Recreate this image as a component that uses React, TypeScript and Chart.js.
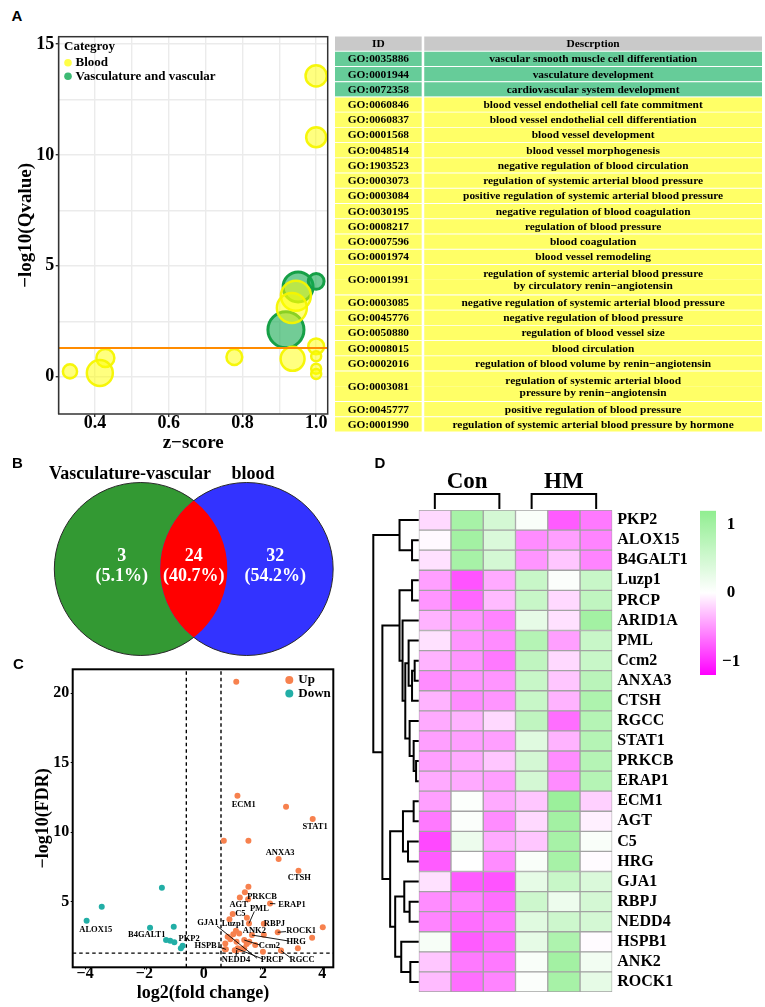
import React, { useEffect, useRef } from 'react';
import { Chart, registerables } from 'chart.js';

Chart.register(...registerables);

const SERIF = '"Liberation Serif", "Times New Roman", Times, serif';
const SANS = '"Liberation Sans", Arial, Helvetica, sans-serif';
Chart.defaults.font.family = SERIF;
Chart.defaults.color = '#000';

// ---------------- Panel A : GO bubble chart ----------------
const bloodZ = [1.0, 1.0, 0.945, 0.934, 1.0, 1.0, 0.936, 0.778, 0.428, 0.413, 0.332, 1.0, 1.0];
const bloodQ = [13.56, 10.8, 3.65, 3.1, 1.37, 0.92, 0.81, 0.89, 0.84, 0.17, 0.24, 0.36, 0.12];
const bloodCount = [18, 16, 36, 36, 10, 4, 23, 10, 13, 27, 8, 4, 4];
const vascZ = [0.951, 1.0, 0.918];
const vascQ = [4.05, 4.3, 2.12];
const vascCount = [36, 10, 52];
const qCutoff = 1.3;
const zGrid = [0.3, 0.4, 0.5, 0.6, 0.7, 0.8, 0.9, 1.0];
const zLabels = [0.4, 0.6, 0.8, 1.0];
const qGrid = [0, 2.5, 5, 7.5, 10, 12.5, 15];
const qLabels = [0, 5, 10, 15];
const categoryNames = ['Blood', 'Vasculature and vascular'];
const legendTitleA = 'Categroy';

// ---------------- Panel A : GO table ----------------
const tableHeader = ['ID', 'Descrption'];
const goIds = [
  'GO:0035886', 'GO:0001944', 'GO:0072358', 'GO:0060846', 'GO:0060837', 'GO:0001568',
  'GO:0048514', 'GO:1903523', 'GO:0003073', 'GO:0003084', 'GO:0030195', 'GO:0008217',
  'GO:0007596', 'GO:0001974', 'GO:0001991', 'GO:0003085', 'GO:0045776', 'GO:0050880',
  'GO:0008015', 'GO:0002016', 'GO:0003081', 'GO:0045777', 'GO:0001990',
];
const goTerms = [
  'vascular smooth muscle cell differentiation',
  'vasculature development',
  'cardiovascular system development',
  'blood vessel endothelial cell fate commitment',
  'blood vessel endothelial cell differentiation',
  'blood vessel development',
  'blood vessel morphogenesis',
  'negative regulation of blood circulation',
  'regulation of systemic arterial blood pressure',
  'positive regulation of systemic arterial blood pressure',
  'negative regulation of blood coagulation',
  'regulation of blood pressure',
  'blood coagulation',
  'blood vessel remodeling',
  'regulation of systemic arterial blood pressure\nby circulatory renin\u2212angiotensin',
  'negative regulation of systemic arterial blood pressure',
  'negative regulation of blood pressure',
  'regulation of blood vessel size',
  'blood circulation',
  'regulation of blood volume by renin\u2212angiotensin',
  'regulation of systemic arterial blood\npressure by renin\u2212angiotensin',
  'positive regulation of blood pressure',
  'regulation of systemic arterial blood pressure by hormone',
];
const goCategory = [
  'Vasculature', 'Vasculature', 'Vasculature',
  'Blood', 'Blood', 'Blood', 'Blood', 'Blood', 'Blood', 'Blood', 'Blood', 'Blood', 'Blood',
  'Blood', 'Blood', 'Blood', 'Blood', 'Blood', 'Blood', 'Blood', 'Blood', 'Blood', 'Blood',
];

// ---------------- Panel B : Venn ----------------
const vennSets = ['Vasculature-vascular', 'blood'];
const vennCounts = [3, 24, 32]; // left only, overlap, right only

// ---------------- Panel C : volcano ----------------
const upLog2FC = [
  1.10, 1.14, 2.78, 3.68, 0.68, 1.51, 2.53, 3.20, 1.51, 1.39, 1.22, 1.50, 2.24, 0.98, 0.87,
  1.46, 1.53, 2.03, 4.02, 2.50, 3.66, 2.03, 1.63, 1.09, 1.20, 1.00, 0.81, 1.11, 1.37, 1.54,
  1.74, 0.73, 0.75, 1.15, 1.37, 2.61, 3.18, 2.00, 1.05, 1.26, 0.90, 1.45, 0.72, 1.12,
];
const upNegLogFDR = [
  20.83, 12.63, 11.83, 10.95, 9.38, 9.39, 8.08, 7.23, 6.08, 5.68, 5.30, 5.17, 4.87, 4.12, 3.73,
  3.85, 3.44, 3.42, 3.16, 2.80, 2.41, 2.62, 2.60, 2.91, 2.72, 2.65, 2.48, 2.12, 2.24, 2.12,
  1.88, 2.00, 1.57, 1.65, 1.65, 1.48, 1.65, 1.40, 1.50, 1.58, 2.30, 1.95, 1.58, 1.53,
];
const downLog2FC = [-1.41, -3.44, -3.95, -1.81, -1.01, -1.27, -1.13, -0.99, -0.71, -0.77];
const downNegLogFDR = [6.01, 4.64, 3.63, 3.13, 3.20, 2.24, 2.19, 2.08, 1.83, 1.65];
const fcCut = 0.585;
const fdrCut = 1.3;
const log2Ticks = [-4, -2, 0, 2, 4];
const fdrTicks = [5, 10, 15, 20];
const volcanoLegend = ['Up', 'Down'];
const volcanoGenes = ['ECM1', 'STAT1', 'ANXA3', 'CTSH', 'PRKCB', 'ERAP1', 'AGT', 'PML', 'C5', 'Luzp1', 'RBPJ', 'ANK2',
  'ROCK1', 'HRG', 'Ccm2', 'NEDD4', 'PRCP', 'RGCC', 'GJA1', 'HSPB1', 'ALOX15', 'B4GALT1', 'PKP2'];
const volcanoGeneX = [1.35, 3.76, 2.58, 3.23, 1.97, 2.98, 1.18, 1.88, 1.24, 1.0, 2.39, 1.71,
  3.29, 3.12, 2.22, 1.09, 2.31, 3.32, 0.14, 0.14, -3.64, -1.92, -0.49];
const volcanoGeneY = [12.0, 10.4, 8.55, 6.75, 5.36, 4.81, 4.76, 4.5, 4.16, 3.4, 3.44, 2.91,
  2.89, 2.12, 1.84, 0.8, 0.8, 0.8, 3.49, 1.84, 2.96, 2.6, 2.32];
// connector segments: [fromX, fromY, toX, toY]
const volcanoLinks = [
  [2.42, 4.85, 2.24, 4.87],
  [1.71, 4.3, 1.53, 3.44],
  [2.78, 2.85, 2.50, 2.80],
  [2.87, 2.17, 1.63, 2.60],
  [1.91, 1.88, 1.37, 2.24],
  [1.09, 1.05, 1.12, 1.53],
  [1.99, 0.88, 1.09, 1.65],
  [2.95, 0.93, 2.61, 1.48],
  [0.45, 3.25, 1.80, 0.93],
  [0.50, 1.75, 0.75, 1.57],
];

// ---------------- Panel D : heatmap ----------------
const heatSamples = ['Con1', 'Con2', 'Con3', 'HM1', 'HM2', 'HM3'];
const heatSampleGroup = ['Con', 'Con', 'Con', 'HM', 'HM', 'HM'];
const heatGroups = ['Con', 'HM'];
const heatGenes = ['PKP2', 'ALOX15', 'B4GALT1', 'Luzp1', 'PRCP', 'ARID1A', 'PML', 'Ccm2', 'ANXA3', 'CTSH',
  'RGCC', 'STAT1', 'PRKCB', 'ERAP1', 'ECM1', 'AGT', 'C5', 'HRG', 'GJA1', 'RBPJ', 'NEDD4', 'HSPB1', 'ANK2', 'ROCK1'];
const heatValues = [
  [-0.18, 0.95, 0.47, 0.07, -0.77, -0.63],
  [-0.03, 1.0, 0.4, -0.54, -0.45, -0.58],
  [-0.14, 0.95, 0.47, -0.5, -0.27, -0.58],
  [-0.45, -0.81, -0.4, 0.6, 0.04, 0.6],
  [-0.5, -0.72, -0.32, 0.6, -0.18, 0.68],
  [-0.36, -0.5, -0.58, 0.27, -0.14, 1.0],
  [-0.14, -0.5, -0.54, 0.8, -0.45, 0.6],
  [-0.36, -0.5, -0.63, 0.68, -0.18, 0.6],
  [-0.54, -0.5, -0.5, 0.6, -0.27, 0.75],
  [-0.36, -0.54, -0.5, 0.6, -0.36, 0.88],
  [-0.4, -0.36, -0.18, 0.68, -0.68, 0.8],
  [-0.45, -0.45, -0.45, 0.34, -0.36, 0.8],
  [-0.45, -0.4, -0.27, 0.47, -0.54, 0.8],
  [-0.4, -0.4, -0.45, 0.47, -0.54, 0.8],
  [-0.45, 0.03, -0.4, -0.27, 1.08, -0.22],
  [-0.63, 0.04, -0.54, -0.18, 1.0, -0.07],
  [-0.86, 0.2, -0.4, -0.27, 0.95, 0.07],
  [-0.77, 0.0, -0.54, 0.07, 0.95, -0.02],
  [-0.14, -0.77, -0.81, 0.27, 0.6, 0.4],
  [-0.54, -0.58, -0.68, 0.54, 0.2, 0.47],
  [-0.58, -0.68, -0.63, 0.34, 0.54, 0.47],
  [0.09, -0.77, -0.68, 0.27, 0.88, -0.02],
  [-0.27, -0.63, -0.63, 0.07, 1.0, 0.14],
  [-0.32, -0.68, -0.58, 0.04, 0.95, 0.27],
];
// row dendrogram: [height, left, right]; leaves are row indices
const rowTree: any = [45,
  [19, 0, [6.6, 1, 2]],
  [36,
    [19, [6.6, 3, 4], [16, 5, [13.3, [10, 6, [6.6, [4, 7, 8], 9]], [9, 10, [5, 11, [2.6, 12, 13]]]]]],
    [28.3, [15.6, [5, 14, 15], [10.6, 16, 17]], [23.3, [14.3, 18, [9, 19, 20]], [17.3, 21, [8.3, 22, 23]]]],
  ],
];
const legendTicks = [-1, 0, 1];
const HEAT_LIMIT = 1.2;

// ---------------- helpers ----------------
const bold = (size: number, lineHeight = 1.2) => ({ family: SERIF, size, weight: 'bold' as any, lineHeight });
const minusFmt = (v: number) => (v < 0 ? '\u2212' + Math.abs(v) : String(v));
const base: any = {
  responsive: false,
  animation: false,
  events: [],
  plugins: { legend: { display: false }, tooltip: { enabled: false } },
};
const fixSize = (prop: 'width' | 'height', size: number) => (s: any) => {
  s[prop] = size;
  s.paddingLeft = 0;
  s.paddingRight = 0;
  s.paddingTop = 0;
  s.paddingBottom = 0;
};

function heatColor(v: number) {
  const t = Math.max(-1, Math.min(1, v / HEAT_LIMIT));
  let r, g, b;
  if (t >= 0) {
    r = 255 + (144 - 255) * t;
    g = 255 + (238 - 255) * t;
    b = 255 + (144 - 255) * t;
  } else {
    r = 255;
    g = 255 * (1 + t);
    b = 255;
  }
  return `rgb(${Math.round(r)},${Math.round(g)},${Math.round(b)})`;
}

// ---------------- Panel A bubble ----------------
const bubbleRadius = (count: number) => 2.5 * Math.sqrt(count);
const legendFill = ['rgba(255,255,40,0.85)', '#3dba74'];

const bubbleDecor = {
  id: 'bubbleDecor',
  afterDatasetsDraw(chart: any) {
    const { ctx, chartArea: a } = chart;
    ctx.save();
    ctx.strokeStyle = '#333333';
    ctx.lineWidth = 1.5;
    ctx.strokeRect(a.left, a.top, a.right - a.left, a.bottom - a.top);
    ctx.textBaseline = 'middle';
    ctx.textAlign = 'left';
    ctx.fillStyle = '#000';
    ctx.font = `bold 13px ${SERIF}`;
    ctx.fillText(legendTitleA, a.left + 5.3, a.top + 10);
    categoryNames.forEach((name, i) => {
      const yy = a.top + 26 + i * 13.6;
      ctx.beginPath();
      ctx.arc(a.left + 9.3, yy, 3.8, 0, Math.PI * 2);
      ctx.fillStyle = legendFill[i];
      ctx.fill();
      ctx.fillStyle = '#000';
      ctx.fillText(name, a.left + 16.8, yy);
    });
    ctx.restore();
  },
};

function bubbleConfig() {
  const zMin = 0.3014, zMax = 1.0313;
  return {
    type: 'bubble',
    data: {
      datasets: [
        {
          type: 'scatter', label: 'cutoff', showLine: true, pointRadius: 0,
          data: [{ x: zMin, y: qCutoff }, { x: zMax, y: qCutoff }],
          borderColor: '#ff8c00', borderWidth: 2, order: 0,
        },
        {
          label: categoryNames[0],
          data: bloodZ.map((z, i) => ({ x: z, y: bloodQ[i], r: bubbleRadius(bloodCount[i]) })),
          backgroundColor: 'rgba(255,255,0,0.5)', borderColor: 'rgba(245,245,0,0.95)', borderWidth: 2.5, order: 1,
        },
        {
          label: categoryNames[1],
          data: vascZ.map((z, i) => ({ x: z, y: vascQ[i], r: bubbleRadius(vascCount[i]) })),
          backgroundColor: 'rgba(20,170,80,0.6)', borderColor: '#16a047', borderWidth: 3, order: 2,
        },
      ],
    },
    options: {
      ...base,
      layout: { autoPadding: false, padding: { top: 8.7, right: 7.3, left: 0, bottom: 0 } },
      scales: {
        x: {
          type: 'linear', min: zMin, max: zMax,
          afterBuildTicks: (s: any) => { s.ticks = zGrid.map((v) => ({ value: v })); },
          afterFit: fixSize('height', 41),
          ticks: {
            autoSkip: false, maxRotation: 0, padding: -2.3, font: bold(18, 1), color: '#000',
            callback: (v: number) => (zLabels.includes(v) ? v.toFixed(1) : ''),
          },
          grid: {
            color: '#ebebeb', lineWidth: 1.4, tickLength: 3,
            tickColor: (c: any) => (c.tick && zLabels.includes(c.tick.value) ? '#333' : 'rgba(0,0,0,0)'),
          },
          border: { display: false },
          title: { display: true, text: 'z\u2212score', font: bold(19), color: '#000', padding: { top: 0, bottom: 0.9 } },
        },
        y: {
          type: 'linear', min: -1.68, max: 15.33,
          afterBuildTicks: (s: any) => { s.ticks = qGrid.map((v) => ({ value: v })); },
          afterFit: fixSize('width', 58.7),
          ticks: {
            autoSkip: false, padding: 1.4, font: bold(18, 1), color: '#000',
            callback: (v: number) => (qLabels.includes(v) ? String(v) : ''),
          },
          grid: {
            color: '#ebebeb', lineWidth: 1.4, tickLength: 3,
            tickColor: (c: any) => (c.tick && qLabels.includes(c.tick.value) ? '#333' : 'rgba(0,0,0,0)'),
          },
          border: { display: false },
          title: { display: true, text: '\u2212log10(Qvalue)', font: bold(19), color: '#000', padding: { top: 14.6, bottom: 0 } },
        },
      },
    },
    plugins: [bubbleDecor],
  };
}

// ---------------- Panel A table ----------------
const tableColumns = [{ from: 0, to: 0.203 }, { from: 0.209, to: 1 }];
const tableColors = { header: '#c9c9c9', Vasculature: '#66cc99', Blood: '#ffff66' } as any;
type Slot = { key: string; row: number; part: number; span: number };
const tableSlots: Slot[] = [{ key: 'head', row: -1, part: 0, span: 1 }];
goTerms.forEach((t, i) => {
  const n = t.split('\n').length;
  for (let p = 0; p < n; p++) tableSlots.push({ key: `r${i}_${p}`, row: i, part: p, span: n });
});

const tableText = {
  id: 'tableText',
  afterDatasetsDraw(chart: any) {
    const { ctx, scales: { x, y } } = chart;
    const rows = [{ id: tableHeader[0], text: tableHeader[1] }].concat(goIds.map((id, i) => ({ id, text: goTerms[i] })));
    ctx.save();
    ctx.font = `bold 11.4px ${SERIF}`;
    ctx.fillStyle = '#000';
    ctx.textAlign = 'center';
    ctx.textBaseline = 'middle';
    const xId = x.getPixelForValue((tableColumns[0].from + tableColumns[0].to) / 2);
    const xDesc = x.getPixelForValue((tableColumns[1].from + tableColumns[1].to) / 2);
    rows.forEach((r, k) => {
      const idx: number[] = [];
      tableSlots.forEach((s, i) => { if (s.row === k - 1) idx.push(i); });
      const yc = (y.getPixelForValue(idx[0]) + y.getPixelForValue(idx[idx.length - 1])) / 2;
      ctx.fillText(r.id, xId, yc + 0.5);
      const lines = r.text.split('\n');
      lines.forEach((ln, j) => ctx.fillText(ln, xDesc, yc + 0.5 + (j - (lines.length - 1) / 2) * 11.7));
    });
    ctx.restore();
  },
};

function tableConfig() {
  const slotColor = (s: Slot) => (s.row < 0 ? tableColors.header : tableColors[goCategory[s.row]]);
  return {
    type: 'bar',
    data: {
      labels: tableSlots.map((s) => s.key),
      datasets: tableColumns.map((col) => ({
        data: tableSlots.map(() => [col.from, col.to]),
        backgroundColor: tableSlots.map(slotColor),
        borderColor: '#ffffff',
        borderWidth: (c: any) => {
          const s = tableSlots[c.dataIndex];
          if (!s) return 0;
          return { top: s.part > 0 ? 0 : 0.8, bottom: s.part < s.span - 1 ? 0 : 0.8, left: 0, right: 0 };
        },
        borderSkipped: false,
        barPercentage: 1,
        categoryPercentage: 1,
        grouped: false,
      })),
    },
    options: {
      ...base,
      indexAxis: 'y',
      layout: { padding: 0 },
      scales: { x: { type: 'linear', display: false, min: 0, max: 1 }, y: { display: false } },
    },
    plugins: [tableText],
  };
}

// ---------------- Panel B Venn ----------------
const vennRadius = 1;
const vennGap = 1.224;
const vennColors = ['#339933', '#ff0000', '#3333ff'];
const vennPlugin = {
  id: 'venn',
  afterDraw(chart: any) {
    const { ctx, scales: { x, y } } = chart;
    const R = x.getPixelForValue(vennRadius) - x.getPixelForValue(0);
    const c1 = x.getPixelForValue(0), c2 = x.getPixelForValue(vennGap), cy = y.getPixelForValue(0);
    const circ = (cx: number) => { ctx.beginPath(); ctx.arc(cx, cy, R, 0, Math.PI * 2); };
    ctx.save();
    circ(c1); ctx.fillStyle = vennColors[0]; ctx.fill();
    circ(c2); ctx.fillStyle = vennColors[2]; ctx.fill();
    ctx.save(); circ(c1); ctx.clip(); circ(c2); ctx.fillStyle = vennColors[1]; ctx.fill(); ctx.restore();
    ctx.lineWidth = 1;
    ctx.strokeStyle = '#2a2a2a';
    [[c1, c2], [c2, c1]].forEach(([a, b]) => {
      ctx.save();
      ctx.beginPath();
      ctx.rect(0, 0, chart.width, chart.height);
      ctx.arc(b, cy, R, 0, Math.PI * 2);
      ctx.clip('evenodd');
      circ(a);
      ctx.stroke();
      ctx.restore();
    });
    ctx.textAlign = 'center';
    ctx.textBaseline = 'middle';
    ctx.font = `bold 18px ${SERIF}`;
    ctx.fillStyle = '#000';
    ctx.fillText(vennSets[0], x.getPixelForValue(-0.125), y.getPixelForValue(1.09));
    ctx.fillText(vennSets[1], x.getPixelForValue(vennGap + 0.073), y.getPixelForValue(1.09));
    const total = vennCounts.reduce((s, v) => s + v, 0);
    const xs = [-0.22, vennGap / 2, vennGap + 0.33];
    ctx.fillStyle = '#ffffff';
    vennCounts.forEach((n, i) => {
      ctx.fillText(String(n), x.getPixelForValue(xs[i]), y.getPixelForValue(0.142));
      ctx.fillText(`(${((n / total) * 100).toFixed(1)}%)`, x.getPixelForValue(xs[i]), y.getPixelForValue(-0.089));
    });
    ctx.restore();
  },
};

function vennConfig() {
  return {
    type: 'scatter',
    data: { datasets: [] },
    options: {
      ...base,
      layout: { padding: 0 },
      scales: {
        x: { type: 'linear', display: false, min: -1.628, max: 2.361 },
        y: { type: 'linear', display: false, min: -1.052, max: 1.26 },
      },
    },
    plugins: [vennPlugin],
  };
}

// ---------------- Panel C volcano ----------------
const upColor = '#f7814e';
const downColor = '#22aea6';
const volcanoDecor = {
  id: 'volcanoDecor',
  afterDatasetsDraw(chart: any) {
    const { ctx, chartArea: a, scales: { x, y } } = chart;
    ctx.save();
    ctx.strokeStyle = '#000';
    ctx.lineWidth = 0.9;
    volcanoLinks.forEach(([x1, y1, x2, y2]) => {
      ctx.beginPath();
      ctx.moveTo(x.getPixelForValue(x1), y.getPixelForValue(y1));
      ctx.lineTo(x.getPixelForValue(x2), y.getPixelForValue(y2));
      ctx.stroke();
    });
    ctx.font = `bold 8.5px ${SERIF}`;
    ctx.fillStyle = '#000';
    ctx.textAlign = 'center';
    ctx.textBaseline = 'middle';
    volcanoGenes.forEach((g, i) => ctx.fillText(g, x.getPixelForValue(volcanoGeneX[i]), y.getPixelForValue(volcanoGeneY[i])));
    ctx.lineWidth = 2;
    ctx.strokeRect(a.left, a.top, a.right - a.left, a.bottom - a.top);
    ctx.font = `bold 13px ${SERIF}`;
    ctx.textAlign = 'left';
    volcanoLegend.forEach((name, i) => {
      const yy = a.top + 10.7 + i * 13.4;
      ctx.beginPath();
      ctx.arc(a.right - 44, yy, 4, 0, Math.PI * 2);
      ctx.fillStyle = i === 0 ? upColor : downColor;
      ctx.fill();
      ctx.fillStyle = '#000';
      ctx.fillText(name, a.right - 35, yy);
    });
    ctx.restore();
  },
};

function volcanoConfig() {
  const xMin = -4.42, xMax = 4.375, yMin = 0.28, yMax = 21.72;
  const dashed = (pts: any[]) => ({
    type: 'scatter', data: pts, showLine: true, pointRadius: 0,
    borderColor: '#000', borderWidth: 1.4, borderDash: [3.5, 3], order: 3,
  });
  return {
    type: 'scatter',
    data: {
      datasets: [
        { label: 'Up', data: upLog2FC.map((v, i) => ({ x: v, y: upNegLogFDR[i] })), pointRadius: 3, backgroundColor: upColor, borderWidth: 0, order: 1 },
        { label: 'Down', data: downLog2FC.map((v, i) => ({ x: v, y: downNegLogFDR[i] })), pointRadius: 3, backgroundColor: downColor, borderWidth: 0, order: 1 },
        dashed([{ x: -fcCut, y: yMin }, { x: -fcCut, y: yMax }]),
        dashed([{ x: fcCut, y: yMin }, { x: fcCut, y: yMax }]),
        dashed([{ x: xMin, y: fdrCut }, { x: xMax, y: fdrCut }]),
      ],
    },
    options: {
      ...base,
      layout: { autoPadding: false, padding: { top: 29.3, right: 11.7, left: 0, bottom: 0 } },
      scales: {
        x: {
          type: 'linear', min: xMin, max: xMax,
          afterBuildTicks: (s: any) => { s.ticks = log2Ticks.map((v) => ({ value: v })); },
          afterFit: fixSize('height', 39.7),
          ticks: { autoSkip: false, maxRotation: 0, padding: -3, font: bold(16, 1), color: '#000', callback: (v: number) => minusFmt(v) },
          grid: { drawOnChartArea: false, tickLength: 2, tickColor: '#000', lineWidth: 1 },
          border: { display: false },
          title: { display: true, text: 'log2(fold change)', font: bold(18), color: '#000', padding: { top: 0, bottom: 2.9 } },
        },
        y: {
          type: 'linear', min: yMin, max: yMax,
          afterBuildTicks: (s: any) => { s.ticks = fdrTicks.map((v) => ({ value: v })); },
          afterFit: fixSize('width', 72.7),
          ticks: { autoSkip: false, padding: 1.4, font: bold(16, 1), color: '#000' },
          grid: { drawOnChartArea: false, tickLength: 2, tickColor: '#000', lineWidth: 1 },
          border: { display: false },
          title: { display: true, text: '\u2212log10(FDR)', font: bold(18), color: '#000', padding: { top: 32.5, bottom: 0 } },
        },
      },
    },
    plugins: [volcanoDecor],
  };
}

// ---------------- Panel D heatmap ----------------
const heatDecor = {
  id: 'heatDecor',
  afterDraw(chart: any) {
    const { ctx, chartArea: a, scales: { x, y } } = chart;
    ctx.save();
    ctx.strokeStyle = '#000';
    ctx.lineWidth = 2;
    ctx.lineJoin = 'miter';
    const k = (a.left - 13.3) / rowTree[0];
    const walk = (node: any): { py: number; px: number } => {
      if (typeof node === 'number') return { py: y.getPixelForValue(node), px: a.left };
      const [h, l, r] = node;
      const L = walk(l), R = walk(r);
      const px = a.left - h * k;
      ctx.beginPath();
      ctx.moveTo(L.px, L.py);
      ctx.lineTo(px, L.py);
      ctx.lineTo(px, R.py);
      ctx.lineTo(R.px, R.py);
      ctx.stroke();
      return { py: (L.py + R.py) / 2, px };
    };
    walk(rowTree);
    ctx.font = `bold 23px ${SERIF}`;
    ctx.textAlign = 'center';
    ctx.textBaseline = 'middle';
    ctx.fillStyle = '#000';
    heatGroups.forEach((g) => {
      const cols: number[] = [];
      heatSampleGroup.forEach((gg, j) => { if (gg === g) cols.push(j); });
      const x0 = x.getPixelForValue(cols[0] + 0.5);
      const x1 = x.getPixelForValue(cols[cols.length - 1] + 0.5);
      ctx.beginPath();
      ctx.moveTo(x0, a.top - 1);
      ctx.lineTo(x0, a.top - 16);
      ctx.lineTo(x1, a.top - 16);
      ctx.lineTo(x1, a.top - 1);
      ctx.stroke();
      ctx.fillText(g, (x0 + x1) / 2, a.top - 27.5);
    });
    ctx.restore();
  },
};

function heatmapConfig() {
  return {
    type: 'bar',
    data: {
      labels: heatGenes,
      datasets: heatSamples.map((s, j) => ({
        label: s,
        data: heatGenes.map(() => [j, j + 1]),
        backgroundColor: heatGenes.map((g, i) => heatColor(heatValues[i][j])),
        borderColor: '#a3a3a3',
        borderWidth: 1,
        borderSkipped: false,
        barPercentage: 1,
        categoryPercentage: 1,
        grouped: false,
      })),
    },
    options: {
      ...base,
      indexAxis: 'y',
      layout: { padding: { left: 58.7, top: 50, bottom: 15, right: 0 } },
      scales: {
        x: { type: 'linear', display: false, min: 0, max: heatSamples.length },
        y: {
          position: 'right',
          grid: { display: false, drawTicks: false },
          border: { display: false },
          ticks: { font: bold(16, 1), color: '#000', padding: 5, autoSkip: false },
          afterFit: fixSize('width', 82.7),
        },
      },
    },
    plugins: [heatDecor],
  };
}

function colorbarConfig() {
  const lo = -HEAT_LIMIT, hi = HEAT_LIMIT;
  const gradient = (chart: any) => {
    const { chartArea, scales } = chart;
    if (!chartArea || !scales.y) return 'rgba(0,0,0,0)';
    const ys = scales.y;
    const g = chart.ctx.createLinearGradient(0, ys.getPixelForValue(hi), 0, ys.getPixelForValue(lo));
    for (let i = 0; i <= 24; i++) g.addColorStop(i / 24, heatColor(hi - (i / 24) * (hi - lo)));
    return g;
  };
  return {
    type: 'bar',
    data: {
      labels: ['scale'],
      datasets: [{ data: [[lo, hi]], backgroundColor: (c: any) => gradient(c.chart), borderWidth: 0, barPercentage: 1, categoryPercentage: 1 }],
    },
    options: {
      ...base,
      layout: { padding: { left: 5, top: 10.7, bottom: 10, right: 0 } },
      scales: {
        x: { display: false },
        y: {
          position: 'right', min: lo, max: hi,
          afterBuildTicks: (s: any) => { s.ticks = legendTicks.map((v) => ({ value: v })); },
          afterFit: fixSize('width', 49),
          grid: { display: false, drawTicks: false },
          border: { display: false },
          ticks: { font: bold(17, 1), color: '#000', padding: 6, crossAlign: 'center', callback: (v: number) => minusFmt(v) },
        },
      },
    },
  };
}

// ---------------- React ----------------
function ChartBox({ left, top, width, height, make }: { left: number; top: number; width: number; height: number; make: () => any }) {
  const ref = useRef<HTMLCanvasElement>(null);
  useEffect(() => {
    const chart = new Chart(ref.current as HTMLCanvasElement, make());
    return () => chart.destroy();
  }, []);
  return <canvas ref={ref} width={width} height={height} style={{ position: 'absolute', left, top, width, height }} />;
}

const panelLetters = [
  { t: 'A', left: 11.5, top: 8 },
  { t: 'B', left: 12, top: 454.7 },
  { t: 'C', left: 13, top: 656 },
  { t: 'D', left: 374.5, top: 454.7 },
];

export default function App() {
  return (
    <div style={{ position: 'absolute', left: 0, top: 0, width: 765, height: 1007, background: '#fff', overflow: 'hidden' }}>
      <ChartBox left={0} top={28} width={335} height={427} make={bubbleConfig} />
      <ChartBox left={335} top={36} width={427} height={396} make={tableConfig} />
      <ChartBox left={0} top={460} width={345} height={200} make={vennConfig} />
      <ChartBox left={0} top={640} width={345} height={367} make={volcanoConfig} />
      <ChartBox left={360} top={460} width={335} height={547} make={heatmapConfig} />
      <ChartBox left={695} top={500} width={70} height={185} make={colorbarConfig} />
      {panelLetters.map((p) => (
        <div key={p.t} style={{ position: 'absolute', left: p.left, top: p.top, font: `bold 15px ${SANS}`, lineHeight: '15px', color: '#000' }}>
          {p.t}
        </div>
      ))}
    </div>
  );
}
